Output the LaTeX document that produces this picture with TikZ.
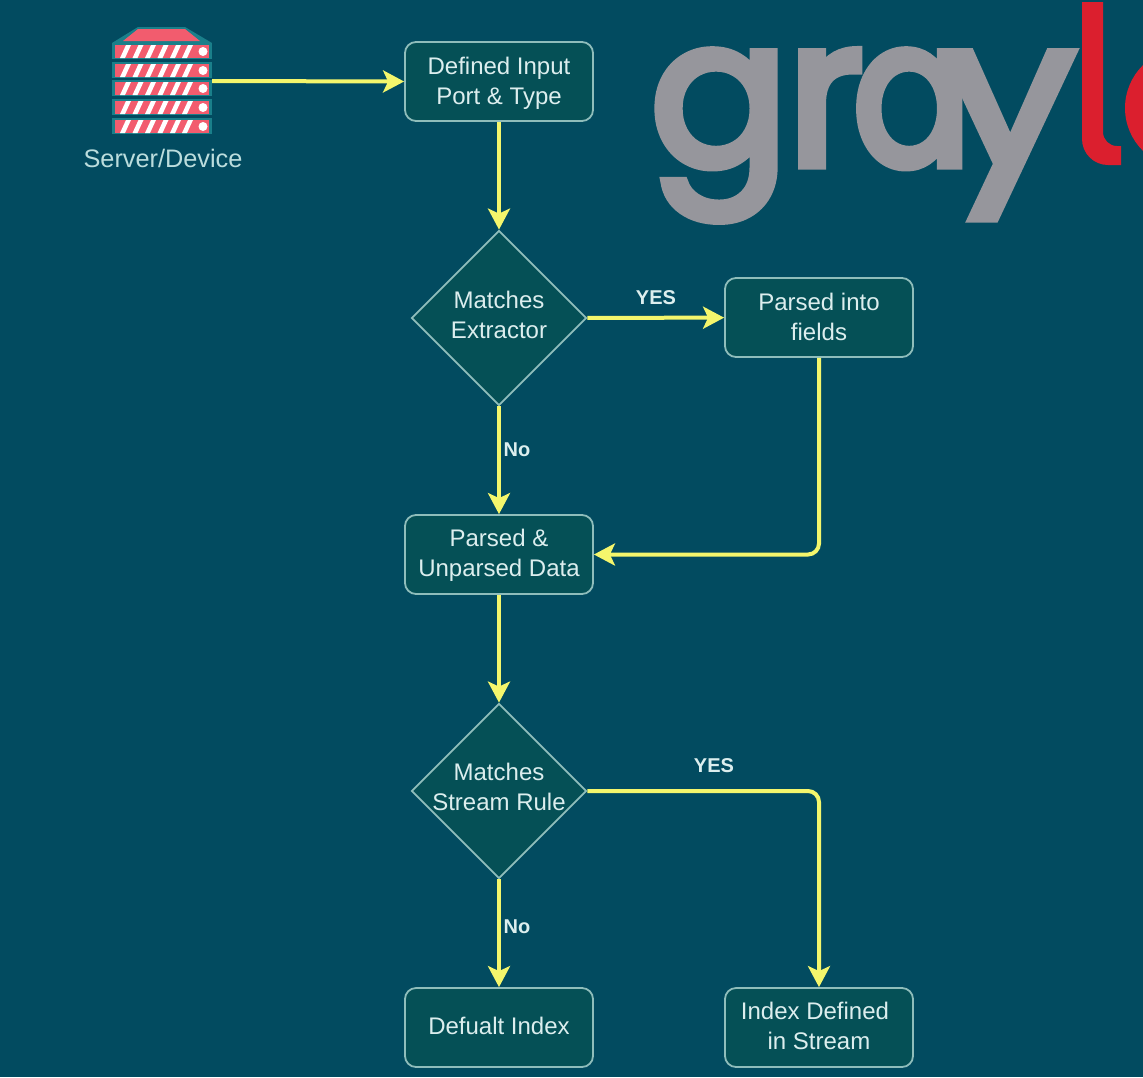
\documentclass[tikz,border=0pt]{standalone}
\usepackage{fontspec}
\setmainfont{Liberation Sans}
\newfontfamily\logofont[FakeBold=4.5]{Poppins}
\newfontfamily\logofontn[FakeBold=4.5,FakeStretch=0.85]{Poppins}
\newfontfamily\logofontw[FakeBold=4.5,FakeStretch=1.15]{Poppins}
\usetikzlibrary{shapes.geometric,arrows.meta}
\definecolor{bgc}{HTML}{024B60}
\definecolor{nodec}{HTML}{055056}
\definecolor{edgec}{HTML}{8FBDBB}
\definecolor{linec}{HTML}{F4F66C}
\definecolor{txtc}{HTML}{DCEEEE}
\definecolor{srvc}{HTML}{F25C6E}
\definecolor{srve}{HTML}{1A7F8A}
\definecolor{logog}{HTML}{96969C}
\definecolor{logor}{HTML}{DB1F2E}
\tikzset{
  x=1pt,y=-1pt,
  every node/.style={text=txtc,font=\fontsize{24}{30}\selectfont,align=center,inner sep=0pt},
  procbox/.style={draw=edgec,fill=nodec,line width=1.8pt,rounded corners=11pt,minimum width=188pt,minimum height=79pt},
  decision/.style={draw=edgec,fill=nodec,line width=1.8pt,shape=diamond,minimum width=175pt,minimum height=175pt},
  flow/.style={draw=linec,line width=4pt,-{Stealth[length=21pt,width=22pt,inset=5pt]}},
  edgelabel/.style={font=\bfseries\fontsize{20}{24}\selectfont},
  inside/.style args={#1/#2/#3}{label={[align=center,xshift=#1pt,yshift=#2pt]center:#3}},
}
\begin{document}
\begin{tikzpicture}
\useasboundingbox (0,0) rectangle (1143,1077);
\fill[bgc] (0,0) rectangle (1143,1077);
% logo
\node[anchor=base west,text=logog,font=\logofont\fontsize{205}{205}\selectfont] (logo) at (650,165) {g\kern-2pt r\kern-10pt{\logofontn a}\kern-28pt{\logofontw y}};
\begin{scope}
\clip (0,0) rectangle (1143,1077);
\fill[logor] (1082,2) -- (1103,2) -- (1103,132) arc[start angle=180,end angle=90,radius=14] -- (1121,146) -- (1121,165) -- (1108,165) arc[start angle=90,end angle=180,radius=26] -- cycle;
\fill[logor] (1185,108) circle (60);
\end{scope}
% server icon
\node[minimum width=100pt,minimum height=108pt] (server) at (162,81) {};
\fill[srve] (112,43) -- (138,27) -- (185,27) -- (212,43) -- cycle;
\fill[srvc] (123,41) -- (138,29) -- (185,29) -- (200,41) -- cycle;
\foreach \yy in {52,71,89,108,127}{
  \fill[srve] (112,\yy-9) rectangle (212,\yy+7);
  \fill[srvc] (115,\yy-7) rectangle (209,\yy+6);
  \foreach \xx in {120,132.5,145,157.5,170,182}
    \fill[white] (\xx,\yy+6) -- (\xx+5,\yy+6) -- (\xx+11,\yy-7) -- (\xx+6,\yy-7) -- cycle;
  \fill[white] (203,\yy-.5) circle (4.5);
}
\node[text=txtc!85!teal,font=\fontsize{25.3}{30}\selectfont] (srvlabel) at (163,158) {Server/Device};
% nodes
\node[procbox,inside={0/-2/Defined Input\\Port \& Type}] (input) at (499,81.5) {};
\node[decision,inside={0/3/Matches\\Extractor}] (ext) at (499,318) {};
\node[procbox,inside={0/1/Parsed into\\fields}] (fields) at (819,317.5) {};
\node[procbox,inside={0/-1/Parsed \&\\Unparsed Data}] (data) at (499,554.5) {};
\node[decision,inside={0/4/Matches\\Stream Rule}] (rule) at (499,791) {};
\node[procbox,inside={0/2/Defualt Index}] (def) at (499,1027.5) {};
\node[procbox,inside={0/2/Index Defined\hspace*{8pt}\\in Stream}] (idx) at (819,1027.5) {};
% connectors
\draw[flow] (server.east) -- (input.west);
\draw[flow] (input) -- (ext);
\draw[flow] (ext) -- (fields);
\draw[flow] (ext) -- (data);
\draw[flow,rounded corners=11pt] (fields.south) |- (data.east);
\draw[flow] (data) -- (rule);
\draw[flow,rounded corners=11pt] (rule.east) -| (idx.north);
\draw[flow] (rule) -- (def);
% labels
\node[edgelabel] (l1) at (656,298) {YES};
\node[edgelabel] (l2) at (517,450) {No};
\node[edgelabel] (l3) at (714,766) {YES};
\node[edgelabel] (l4) at (517,927) {No};
\end{tikzpicture}
\end{document}
